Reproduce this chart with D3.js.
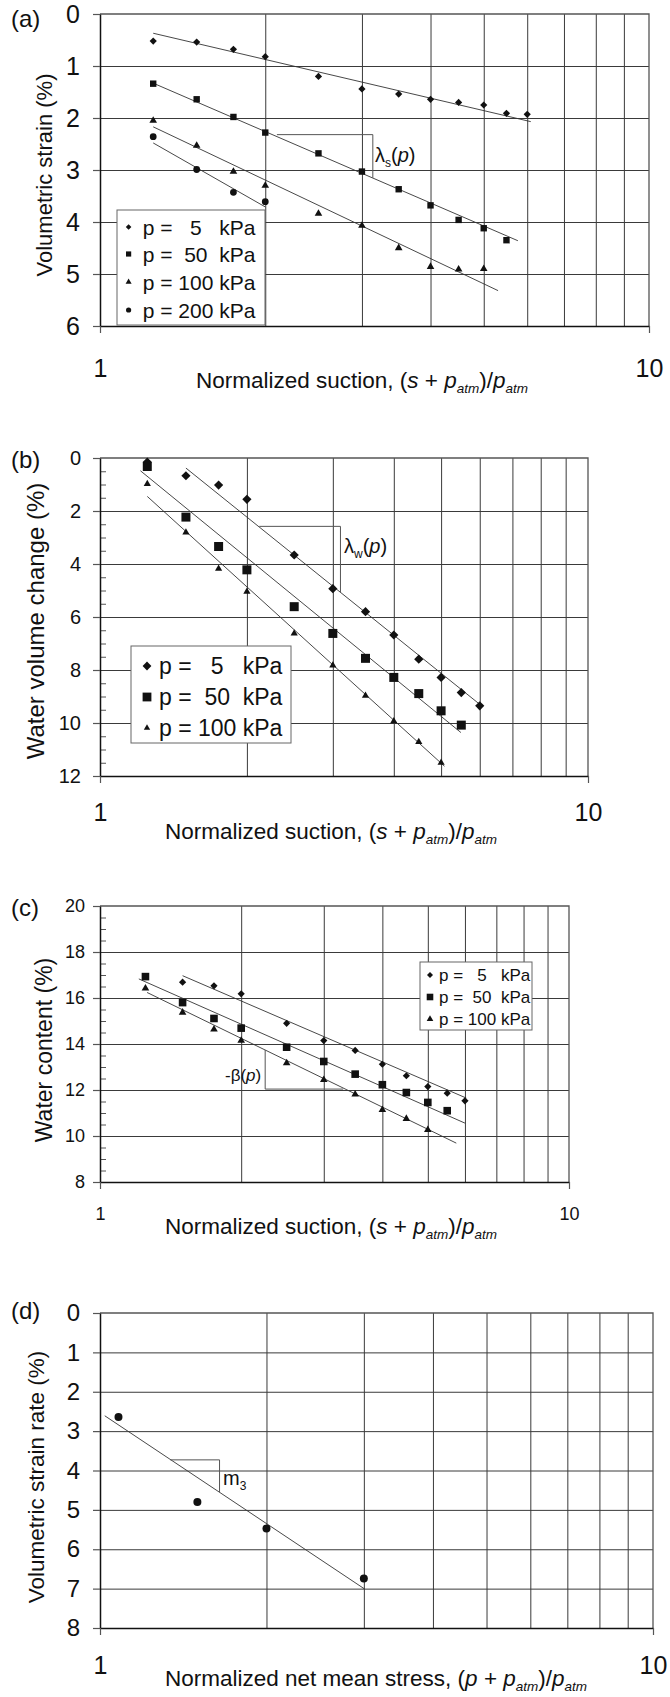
<!DOCTYPE html>
<html>
<head>
<meta charset="utf-8">
<script src="https://cdn.jsdelivr.net/npm/d3@7"></script>
<style>
body { margin: 0; background: #fff; }
svg { display: block; font-family: "Liberation Sans", Arial, sans-serif; }
</style>
</head>
<body>
<svg id="fig" width="670" height="1697"></svg>
<script>
// x-Werte (normierte Saugspannung) der Versuchsstufen
var suction = [1.25, 1.5, 1.75, 2, 2.5, 3, 3.5, 4, 4.5, 5, 5.5, 6];
var pLabels = ["p =   5   kPa", "p =  50  kPa", "p = 100 kPa", "p = 200 kPa"];

// (a) volumetric strain
var strainA5 = [0.52, 0.54, 0.68, 0.82, 1.20, 1.44, 1.54, 1.64, 1.70, 1.75, 1.91, 1.93];
var strainA50 = [1.34, 1.64, 1.98, 2.28, 2.68, 3.03, 3.37, 3.68, 3.96, 4.12, 4.35];
var strainA100 = [2.05, 2.53, 3.03, 3.30, 3.84, 4.07, 4.50, 4.86, 4.91, 4.90];
var strainA200 = [2.36, 2.99, 3.43, 3.61];
var fitA5 = [[1.25, 0.37], [6.09, 2.07]];
var fitA50 = [[1.25, 1.33], [5.77, 4.36]];
var fitA100 = [[1.25, 2.17], [5.31, 5.32]];
var fitA200 = [[1.25, 2.48], [2.0, 3.71]];
var bracketA = [[2.10, 2.32], [3.14, 2.32], [3.14, 3.15]];

// (b) water volume change
var waterB5 = [0.15, 0.67, 1.02, 1.56, 3.66, 4.93, 5.80, 6.68, 7.59, 8.28, 8.85, 9.35];
var waterB50 = [0.32, 2.23, 3.34, 4.22, 5.61, 6.62, 7.56, 8.28, 8.89, 9.54, 10.08];
var waterB100 = [0.98, 2.81, 4.18, 5.04, 6.62, 7.83, 8.97, 9.93, 10.71, 11.50];
var fitB5 = [[1.5, 0.38], [6.07, 9.37]];
var fitB50 = [[1.21, 0.48], [5.49, 10.36]];
var fitB100 = [[1.25, 1.45], [5.08, 11.63]];
var bracketB = [[2.12, 2.58], [3.11, 2.58], [3.11, 5.07]];

// (c) water content (p=5 beginnt erst bei 1.5)
var wcC5 = [16.69, 16.53, 16.18, 14.90, 14.15, 13.72, 13.12, 12.62, 12.15, 11.86, 11.53];
var wcC50 = [16.93, 15.80, 15.11, 14.69, 13.86, 13.24, 12.69, 12.23, 11.89, 11.46, 11.10];
var wcC100 = [16.42, 15.37, 14.64, 14.15, 13.17, 12.44, 11.81, 11.14, 10.75, 10.27];
var fitC5 = [[1.5, 16.97], [6.04, 11.65]];
var fitC50 = [[1.21, 16.83], [6.0, 10.56]];
var fitC100 = [[1.26, 16.24], [5.75, 9.69]];
var bracketC = [[2.25, 13.74], [2.25, 12.04], [3.3, 12.04]];

// (d) volumetric strain rate
var stressD = [1.08, 1.5, 2, 3];
var rateD = [2.64, 4.80, 5.47, 6.74];
var fitD = [[1.02, 2.61], [3.01, 7.01]];
var bracketD = [[1.34, 3.73], [1.645, 3.73], [1.645, 4.55]];

// Achsenbeschriftungen
var ticksA = [0, 1, 2, 3, 4, 5, 6];
var ticksB = [0, 2, 4, 6, 8, 10, 12];
var ticksC = [20, 18, 16, 14, 12, 10, 8];
var ticksD = [0, 1, 2, 3, 4, 5, 6, 7, 8];
var xTicks = [1, 10];
var xGrid = [2, 3, 4, 5, 6, 7, 8, 9];

function pts(xs, ys) { return ys.map(function(v, i) { return [xs[i], v]; }); }
function minors(t) {
    var lo = d3.min(t), hi = d3.max(t);
    return d3.range(lo, hi + 0.01, 0.5).filter(function(v) { return t.indexOf(v) < 0; });
}

// Marker-Pfade, um 0,0 zentriert
function marker(type, s) {
    if (type == "diamond") return "M0," + (-s) + "L" + s + ",0L0," + s + "L" + (-s) + ",0Z";
    if (type == "square") return "M" + (-s) + "," + (-s) + "h" + 2 * s + "v" + 2 * s + "h" + (-2 * s) + "Z";
    if (type == "triangle") { var h = s * 1.732; return "M0," + (-h * 2 / 3) + "L" + s + "," + (h / 3) + "L" + (-s) + "," + (h / 3) + "Z"; }
    return "M" + s + ",0A" + s + "," + s + " 0 1,1 " + (-s) + ",0A" + s + "," + s + " 0 1,1 " + s + ",0Z";
}

var titleSuction = [["Normalized suction, (", 0], ["s", 1], [" + ", 0], ["p", 1], ["atm", 2], [")/", 0], ["p", 1], ["atm", 2]];
var titleStress = [["Normalized net mean stress, (", 0], ["p", 1], [" + ", 0], ["p", 1], ["atm", 2], [")/", 0], ["p", 1], ["atm", 2]];

var panels = [
    { label: "(a)", x0: 100, x1: 649, top: 14, bottom: 326, dom: [0, 6], ticks: ticksA, minor: false,
      yFont: 25, yPad: 13, xFont: 25, xPad: 26, ytitle: "Volumetric strain (%)", ytx: 52, yty: 175, ytFont: 22,
      xtitle: titleSuction, xtx: 196, xty: 388, labelY: 27,
      series: [
        { d: pts(suction, strainA5), fit: fitA5, m: "diamond", s: 3.6, ls: 2.8 },
        { d: pts(suction, strainA50), fit: fitA50, m: "square", s: 3.2, ls: 2.6 },
        { d: pts(suction, strainA100), fit: fitA100, m: "triangle", s: 3.8, ls: 3.0 },
        { d: pts(suction, strainA200), fit: fitA200, m: "circle", s: 3.4, ls: 2.6 }],
      legend: { box: [117, 210, 148, 115], rows: [227, 254, 282, 310], mx: 128.6, tx: 142.7, font: 21 },
      bracket: bracketA, note: [["λ", 0], ["s", 3], ["(", 0], ["p", 1], [")", 0]], nx: 375, ny: 162, nFont: 20 },
    { label: "(b)", x0: 100, x1: 588, top: 458, bottom: 776, dom: [0, 12], ticks: ticksB, minor: true,
      yFont: 20, yPad: 12, xFont: 25, xPad: 20, ytitle: "Water volume change (%)", ytx: 44, yty: 621, ytFont: 24,
      xtitle: titleSuction, xtx: 165, xty: 839, labelY: 468,
      series: [
        { d: pts(suction, waterB5), fit: fitB5, m: "diamond", s: 4.6, ls: 4.4 },
        { d: pts(suction, waterB50), fit: fitB50, m: "square", s: 4.5, ls: 4.4 },
        { d: pts(suction, waterB100), fit: fitB100, m: "triangle", s: 3.6, ls: 3.2 }],
      legend: { box: [131, 646, 160, 97], rows: [666, 697, 728], mx: 147, tx: 159, font: 23 },
      bracket: bracketB, note: [["λ", 0], ["w", 3], ["(", 0], ["p", 1], [")", 0]], nx: 344, ny: 553, nFont: 20 },
    { label: "(c)", x0: 100, x1: 569, top: 906, bottom: 1182, dom: [20, 8], ticks: ticksC, minor: true,
      yFont: 18, yPad: 8, xFont: 18, xPad: 18, ytitle: "Water content (%)", ytx: 52, yty: 1050, ytFont: 23,
      xtitle: titleSuction, xtx: 165, xty: 1234, labelY: 916,
      series: [
        { d: pts(suction.slice(1), wcC5), fit: fitC5, m: "diamond", s: 3.6, ls: 3.0 },
        { d: pts(suction, wcC50), fit: fitC50, m: "square", s: 3.8, ls: 3.3 },
        { d: pts(suction, wcC100), fit: fitC100, m: "triangle", s: 3.8, ls: 3.3 }],
      legend: { box: [420, 962, 112, 68], rows: [975, 997, 1019], mx: 430, tx: 439, font: 17 },
      bracket: bracketC, note: [["-β(", 0], ["p", 1], [")", 0]], nx: 225, ny: 1081, nFont: 17 },
    { label: "(d)", x0: 100, x1: 653, top: 1313, bottom: 1628, dom: [0, 8], ticks: ticksD, minor: false,
      yFont: 24, yPad: 13, xFont: 25, xPad: 21, ytitle: "Volumetric strain rate (%)", ytx: 43.5, yty: 1477, ytFont: 22.5,
      xtitle: titleStress, xtx: 165, xty: 1686, labelY: 1319,
      series: [{ d: pts(stressD, rateD), fit: fitD, m: "circle", s: 4.0 }],
      legend: null,
      bracket: bracketD, note: [["m", 0], ["3", 3]], nx: 223, ny: 1485, nFont: 20 }
];

var svg = d3.select("#fig");

// Text mit kursiven Teilen und tiefgestellten Indizes
function richText(t, parts, size) {
    var shift = 0;
    parts.forEach(function(p) {
        var ts = t.append("tspan").text(p[0]);
        if (p[1] == 1 || p[1] == 2) ts.style("font-style", "italic");
        if (p[1] >= 2) {
            ts.attr("font-size", size * 0.6).attr("dy", size * 0.24 - shift);
            shift = size * 0.24;
        } else if (shift) {
            ts.attr("dy", -shift);
            shift = 0;
        }
    });
}

panels.forEach(function(p) {
    var g = svg.append("g");
    var x = d3.scaleLog().domain([1, 10]).range([p.x0, p.x1]);
    var y = d3.scaleLinear().domain(p.dom).range([p.top, p.bottom]);
    var w = p.x1 - p.x0, h = p.bottom - p.top;

    // Gitterlinien
    var gx = g.append("g").attr("transform", "translate(0," + p.bottom + ")")
        .call(d3.axisBottom(x).tickValues(xGrid).tickSize(-h).tickFormat(""));
    var gy = g.append("g").attr("transform", "translate(" + p.x0 + ",0)")
        .call(d3.axisLeft(y).tickValues(p.ticks.slice(1, -1)).tickSize(-w).tickFormat(""));
    [gx, gy].forEach(function(a) {
        a.select(".domain").remove();
        a.selectAll("line").attr("stroke", "#3a3a3a").attr("stroke-width", 1);
    });

    // Rahmen oben und rechts
    g.append("path")
        .attr("d", "M" + p.x0 + "," + p.top + "H" + p.x1 + "V" + p.bottom)
        .attr("fill", "none").attr("stroke", "#555").attr("stroke-width", 1.3);

    if (p.minor) {
        var mn = g.append("g").attr("transform", "translate(" + p.x0 + ",0)")
            .call(d3.axisLeft(y).tickValues(minors(p.ticks)).tickSize(-6).tickFormat(""));
        mn.select(".domain").remove();
        mn.selectAll("line").attr("stroke", "#555");
    }

    // Achsen
    var ya = g.append("g").attr("transform", "translate(" + p.x0 + ",0)")
        .call(d3.axisLeft(y).tickValues(p.ticks).tickSize(7).tickPadding(p.yPad).tickSizeOuter(0).tickFormat(d3.format("d")));
    var xa = g.append("g").attr("transform", "translate(0," + p.bottom + ")")
        .call(d3.axisBottom(x).tickValues(xTicks).tickSize(7).tickPadding(p.xPad).tickSizeOuter(0).tickFormat(d3.format("d")));
    ya.selectAll("text").attr("font-size", p.yFont).attr("fill", "#111");
    xa.selectAll("text").attr("font-size", p.xFont).attr("fill", "#111");
    [ya, xa].forEach(function(a) {
        a.attr("font-family", null);
        a.select(".domain").attr("stroke", "#111").attr("stroke-width", 1.5);
        a.selectAll("line").attr("stroke", "#555").attr("stroke-width", 1.2);
    });

    // Regressionsgeraden
    var line = d3.line().x(function(d) { return x(d[0]); }).y(function(d) { return y(d[1]); });
    p.series.forEach(function(s) {
        g.append("path").attr("d", line(s.fit))
            .attr("fill", "none").attr("stroke", "#333").attr("stroke-width", 0.9);
    });

    // Messpunkte
    p.series.forEach(function(s) {
        g.selectAll(null).data(s.d).enter().append("path")
            .attr("d", marker(s.m, s.s))
            .attr("transform", function(d) { return "translate(" + x(d[0]) + "," + y(d[1]) + ")"; })
            .attr("fill", "#111");
    });

    // Steigungsdreieck + Beschriftung
    g.append("path").attr("d", line(p.bracket))
        .attr("fill", "none").attr("stroke", "#555").attr("stroke-width", 1);
    var nt = g.append("text").attr("x", p.nx).attr("y", p.ny).attr("font-size", p.nFont).attr("fill", "#111");
    richText(nt, p.note, p.nFont);

    // Legende
    if (p.legend) {
        var L = p.legend;
        g.append("rect").attr("x", L.box[0]).attr("y", L.box[1]).attr("width", L.box[2]).attr("height", L.box[3])
            .attr("fill", "#fff").attr("stroke", "#666").attr("stroke-width", 1);
        p.series.forEach(function(s, i) {
            g.append("path").attr("d", marker(s.m, s.ls))
                .attr("transform", "translate(" + L.mx + "," + L.rows[i] + ")").attr("fill", "#111");
            g.append("text").attr("x", L.tx).attr("y", L.rows[i] + L.font * 0.36)
                .attr("font-size", L.font).attr("fill", "#111")
                .attr("xml:space", "preserve").style("white-space", "pre")
                .text(pLabels[i]);
        });
    }

    // Titel
    g.append("text").attr("transform", "translate(" + p.ytx + "," + p.yty + ") rotate(-90)")
        .attr("text-anchor", "middle").attr("font-size", p.ytFont).attr("fill", "#111").text(p.ytitle);
    var xt = g.append("text").attr("x", p.xtx).attr("y", p.xty).attr("font-size", 22.5).attr("fill", "#111");
    richText(xt, p.xtitle, 22.5);
    g.append("text").attr("x", 11).attr("y", p.labelY).attr("font-size", 24).attr("fill", "#111").text(p.label);
});
</script>
</body>
</html>
